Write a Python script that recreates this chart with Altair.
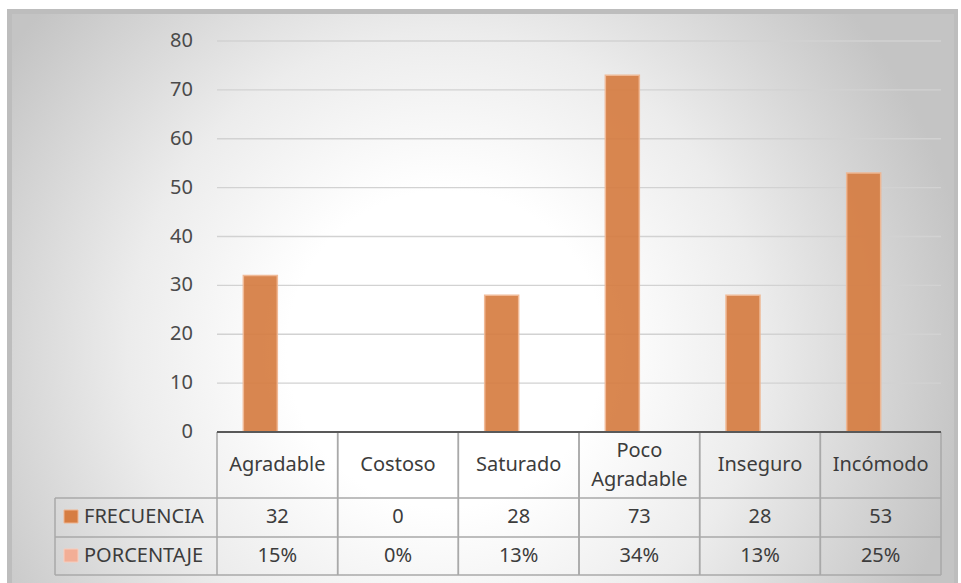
import altair as alt
import pandas as pd

# Categories, table labels and the two series of the survey
categorias = ["Agradable", "Costoso", "Saturado", "Poco Agradable", "Inseguro", "Incómodo"]
encabezados = ["Agradable", "Costoso", "Saturado", "Poco\nAgradable", "Inseguro", "Incómodo"]
frecuencia = [32, 0, 28, 73, 28, 53]
porcentaje = [0.15, 0.00, 0.13, 0.34, 0.13, 0.25]
series = ["FRECUENCIA", "PORCENTAJE"]
marcas_y = [0, 10, 20, 30, 40, 50, 60, 70, 80]

# Styling
colores = ["#d67d42", "#f2ae96"]
bordes = ["#f0b58f", "#f8cdbd"]
texto = "#3c3c3c"
linea_tabla = "#a9a9a9"
FUENTE = "Noto Sans"
TAM = 20

# Plot frame in page pixels
X0, X1 = 217, 941
Y0, Y1 = 432, 41
TABLA_IZQ = 55
FILA_ENC, FILA_F, FILA_P, TABLA_FIN = 432, 498, 537, 575

frec_df = pd.DataFrame({"cat": categorias, "serie": series[0], "valor": frecuencia})
cats_df = pd.DataFrame({"cat": categorias, "enc": encabezados,
                        "frec": frecuencia, "pct": porcentaje})
ticks_df = pd.DataFrame({"v": marcas_y})
uno = pd.DataFrame({"k": [0]})

x_scale = alt.Scale(domain=categorias, range=[X0, X1], paddingInner=0, paddingOuter=0)
y_scale = alt.Scale(domain=[0, 80], range=[Y0, Y1], nice=False)
x_cat = alt.X("cat:N", scale=x_scale, axis=None, sort=categorias)

# Chart area: grey bevel plus a radial white-to-grey fill
marco = alt.Chart(uno).mark_rect(fill="#bdbdbd").encode(
    x=alt.value(7), x2=alt.value(958), y=alt.value(9), y2=alt.value(590))
fondo = alt.Chart(uno).mark_rect(fill={
    "gradient": "radial",
    "x1": 0.46, "y1": 0.55, "x2": 0.46, "y2": 0.55, "r1": 0, "r2": 0.56,
    "stops": [
        {"offset": 0.0, "color": "#ffffff"},
        {"offset": 0.3, "color": "#ffffff"},
        {"offset": 0.6, "color": "#ececec"},
        {"offset": 1.0, "color": "#c4c4c4"},
    ],
}).encode(x=alt.value(12), x2=alt.value(954), y=alt.value(14), y2=alt.value(590))

rejilla = alt.Chart(ticks_df).transform_filter("datum.v > 0").mark_rule(
    color="#d2d2d2", strokeWidth=1.4).encode(
    y=alt.Y("v:Q", scale=y_scale, axis=None), x=alt.value(X0), x2=alt.value(X1))

etiquetas_y = alt.Chart(ticks_df).mark_text(
    align="right", baseline="middle", font=FUENTE, fontSize=TAM, color="#4a4a4a").encode(
    y=alt.Y("v:Q", scale=y_scale, axis=None), x=alt.value(193), text="v:Q")

# Columns: the frequency series, placed in the first of two slots per category
barras = alt.Chart(frec_df).mark_bar(opacity=0.92, strokeWidth=1.5).encode(
    x=x_cat,
    xOffset=alt.XOffset("serie:N", scale=alt.Scale(domain=series, paddingInner=0, paddingOuter=0.775)),
    y=alt.Y("valor:Q", scale=y_scale, axis=None),
    color=alt.Color("serie:N", scale=alt.Scale(domain=series, range=colores), legend=None),
    stroke=alt.Stroke("serie:N", scale=alt.Scale(domain=series, range=bordes), legend=None),
)

# Data table under the columns
verticales_a = alt.Chart(cats_df).mark_rule(color=linea_tabla, strokeWidth=1.5).encode(
    x=alt.X("cat:N", scale=x_scale, axis=None, sort=categorias, bandPosition=0),
    y=alt.value(FILA_ENC), y2=alt.value(TABLA_FIN))
verticales_b = alt.Chart(cats_df).mark_rule(color=linea_tabla, strokeWidth=1.5).encode(
    x=alt.X("cat:N", scale=x_scale, axis=None, sort=categorias, bandPosition=1),
    y=alt.value(FILA_ENC), y2=alt.value(TABLA_FIN))
izquierda = alt.Chart(uno).mark_rule(color=linea_tabla, strokeWidth=1.5).encode(
    x=alt.value(TABLA_IZQ), y=alt.value(FILA_F), y2=alt.value(TABLA_FIN))
horizontales = [
    alt.Chart(uno).mark_rule(color=linea_tabla, strokeWidth=1.5).encode(
        y=alt.value(yy), x=alt.value(TABLA_IZQ), x2=alt.value(X1))
    for yy in (FILA_F, FILA_P, TABLA_FIN)
]
eje = alt.Chart(ticks_df).transform_filter("datum.v == 0").mark_rule(
    color="#595959", strokeWidth=2.2).encode(
    y=alt.Y("v:Q", scale=y_scale, axis=None), x=alt.value(X0), x2=alt.value(X1))

estilo = dict(font=FUENTE, fontSize=TAM, color=texto)
encabezado_1 = alt.Chart(cats_df).transform_filter(
    "indexof(datum.enc, '\\n') < 0").mark_text(baseline="middle", **estilo).encode(
    x=x_cat, y=alt.value(465), text="enc:N")
encabezado_2 = alt.Chart(cats_df).transform_filter(
    "indexof(datum.enc, '\\n') >= 0").mark_text(
    baseline="middle", lineBreak="\n", lineHeight=29, **estilo).encode(
    x=x_cat, y=alt.value(451), text="enc:N")
fila_frec = alt.Chart(cats_df).mark_text(baseline="middle", **estilo).encode(
    x=x_cat, y=alt.value(517), text="frec:Q")
fila_pct = alt.Chart(cats_df).mark_text(baseline="middle", **estilo).encode(
    x=x_cat, y=alt.value(556), text=alt.Text("pct:Q", format=".0%"))

# Legend keys inside the table's first column
leyenda = []
for i, (serie, yc) in enumerate(zip(series, (517, 556))):
    d = pd.DataFrame({"serie": [serie]})
    leyenda.append(alt.Chart(d).mark_rect(
        fill=colores[i], stroke=bordes[i], strokeWidth=1).encode(
        x=alt.value(64), x2=alt.value(78), y=alt.value(yc - 7), y2=alt.value(yc + 6)))
    leyenda.append(alt.Chart(d).mark_text(align="left", baseline="middle", **estilo).encode(
        x=alt.value(84), y=alt.value(yc), text="serie:N"))

chart = alt.layer(
    marco, fondo, rejilla, etiquetas_y, barras,
    verticales_a, verticales_b, izquierda, *horizontales, eje,
    encabezado_1, encabezado_2, fila_frec, fila_pct, *leyenda,
).properties(
    width=961, height=583, padding=0, autosize="none", background="white"
).configure_view(stroke=None)

chart.save("out.html", embed_options={"renderer": "svg", "actions": False})
